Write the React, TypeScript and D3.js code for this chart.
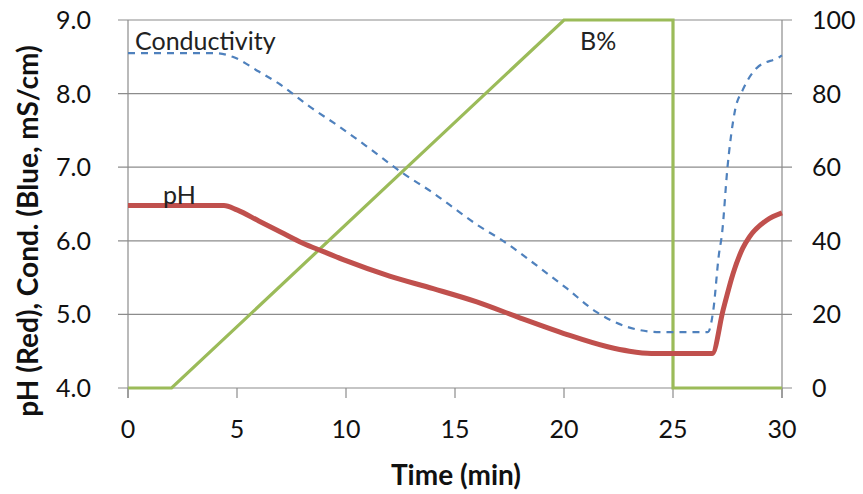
import React, { useRef, useEffect } from "react";
import * as d3 from "d3";

// time (min) vs. gradient B%
const bTime = [0, 2, 20, 25, 25, 30];
const bPercent = [0, 0, 100, 100, 0, 0];

// pH trace (red)
const phTime = [0, 2, 4.4, 5, 6, 7, 8, 9, 10, 12, 14, 16, 18, 20, 22, 23, 24, 25, 26.8, 27.3, 27.75, 28.2, 28.5, 29.3, 30];
const phValue = [6.48, 6.48, 6.48, 6.42, 6.27, 6.12, 5.97, 5.85, 5.73, 5.52, 5.35, 5.17, 4.95, 4.74, 4.56, 4.5, 4.47, 4.47, 4.47, 5.06, 5.55, 5.9, 6.05, 6.28, 6.38];

// conductivity trace (blue, mS/cm)
const condTime = [0, 2, 4, 4.8, 6, 7, 8.35, 9.7, 11.1, 12.6, 14, 15.2, 16, 17.2, 18.9, 20.1, 21.5, 22.9, 24.4, 26.6, 26.85, 27.1, 27.25, 27.5, 27.85, 28.2, 28.85, 29.9, 30];
const condValue = [8.55, 8.55, 8.55, 8.5, 8.3, 8.12, 7.82, 7.55, 7.25, 6.92, 6.65, 6.39, 6.22, 6.0, 5.63, 5.36, 5.03, 4.83, 4.76, 4.76, 5.06, 5.8, 6.1, 7.0, 7.78, 8.05, 8.35, 8.5, 8.52];

const xTicks = [0, 5, 10, 15, 20, 25, 30];
const leftTicks = [4, 5, 6, 7, 8, 9];
const rightTicks = [0, 20, 40, 60, 80, 100];

const App: React.FC = () => {
  const svgRef = useRef<SVGSVGElement>(null);

  useEffect(() => {
    const width = 863;
    const height = 494;
    const left = 128;
    const right = 782;
    const top = 20;
    const bottom = 388;
    const font = "Lato, 'DejaVu Sans', sans-serif";

    const x = d3.scaleLinear().domain([0, 30]).range([left, right]);
    const yL = d3.scaleLinear().domain([4, 9]).range([bottom, top]);
    const yR = d3.scaleLinear().domain([0, 100]).range([bottom, top]);

    const svg = d3
      .select(svgRef.current)
      .attr("width", width)
      .attr("height", height)
      .style("position", "absolute")
      .style("left", "0px")
      .style("top", "0px")
      .style("background", "#fff");

    svg.selectAll("*").remove();

    // gridlines (they also form the outer tick marks)
    svg
      .append("g")
      .attr("stroke", "#8c8c8c")
      .attr("stroke-width", 1.2)
      .selectAll("line")
      .data(leftTicks)
      .join("line")
      .attr("x1", left - 10)
      .attr("x2", right + 10)
      .attr("y1", (d) => yL(d))
      .attr("y2", (d) => yL(d));

    // vertical axes and x ticks
    const axes = svg.append("g").attr("stroke", "#8c8c8c").attr("stroke-width", 1.2);
    axes.append("line").attr("x1", left).attr("x2", left).attr("y1", top).attr("y2", bottom + 10);
    axes.append("line").attr("x1", right).attr("x2", right).attr("y1", top).attr("y2", bottom + 10);
    axes
      .selectAll("line.xt")
      .data(xTicks)
      .join("line")
      .attr("class", "xt")
      .attr("x1", (d) => x(d))
      .attr("x2", (d) => x(d))
      .attr("y1", bottom)
      .attr("y2", bottom + 10);

    // tick labels
    const labels = svg.append("g").attr("font-family", font).attr("font-size", 25).attr("fill", "#111");
    labels
      .selectAll("text.l")
      .data(leftTicks)
      .join("text")
      .attr("class", "l")
      .attr("x", 91)
      .attr("y", (d) => yL(d))
      .attr("dy", "0.36em")
      .attr("text-anchor", "end")
      .text((d) => d.toFixed(1));
    labels
      .selectAll("text.r")
      .data(rightTicks)
      .join("text")
      .attr("class", "r")
      .attr("x", 812)
      .attr("y", (d) => yR(d))
      .attr("dy", "0.36em")
      .text((d) => String(d));
    labels
      .selectAll("text.x")
      .data(xTicks)
      .join("text")
      .attr("class", "x")
      .attr("x", (d) => x(d))
      .attr("y", 429)
      .attr("dy", "0.36em")
      .attr("text-anchor", "middle")
      .text((d) => String(d));

    // axis titles
    svg
      .append("text")
      .attr("x", 456)
      .attr("y", 485)
      .attr("text-anchor", "middle")
      .attr("font-family", font)
      .attr("font-weight", "bold")
      .attr("font-size", 28)
      .attr("fill", "#111")
      .text("Time (min)");
    svg
      .append("text")
      .attr("transform", "translate(38,231) rotate(-90)")
      .attr("text-anchor", "middle")
      .attr("font-family", font)
      .attr("font-weight", "bold")
      .attr("font-size", 28)
      .attr("fill", "#111")
      .text("pH (Red), Cond. (Blue, mS/cm)");

    // series
    const bLine = d3
      .line<number>()
      .x((_, i) => x(bTime[i]))
      .y((d) => yR(d));
    svg
      .append("path")
      .attr("d", bLine(bPercent))
      .attr("fill", "none")
      .attr("stroke", "#9BBB59")
      .attr("stroke-width", 3.2);

    const condLine = d3
      .line<number>()
      .x((_, i) => x(condTime[i]))
      .y((d) => yL(d))
      .curve(d3.curveMonotoneX);
    svg
      .append("path")
      .attr("d", condLine(condValue))
      .attr("fill", "none")
      .attr("stroke", "#4F81BD")
      .attr("stroke-width", 2.2)
      .attr("stroke-dasharray", "7,6");

    const phLine = d3
      .line<number>()
      .x((_, i) => x(phTime[i]))
      .y((d) => yL(d))
      .curve(d3.curveMonotoneX);
    svg
      .append("path")
      .attr("d", phLine(phValue))
      .attr("fill", "none")
      .attr("stroke", "#C0504D")
      .attr("stroke-width", 5);

    // series labels
    const ann = svg.append("g").attr("font-family", font).attr("font-size", 25).attr("fill", "#222");
    ann.append("text").attr("x", 135).attr("y", 50).text("Conductivity");
    ann.append("text").attr("x", 580).attr("y", 50).text("B%");
    ann.append("text").attr("x", 163).attr("y", 204).text("pH");
  }, []);

  return <svg ref={svgRef}></svg>;
};

export default App;
